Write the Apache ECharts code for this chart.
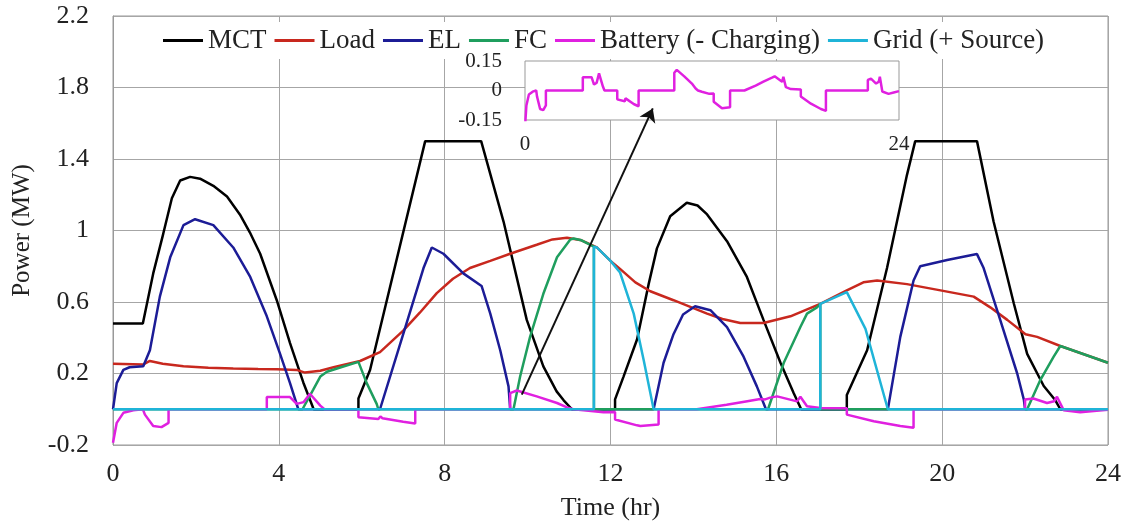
<!DOCTYPE html>
<html>
<head>
<meta charset="utf-8">
<script src="https://cdn.jsdelivr.net/npm/echarts@6/dist/echarts.min.js"></script>
<style>
html, body { margin: 0; padding: 0; background: #fff; }
#main { width: 1128px; height: 526px; }
</style>
</head>
<body>
<div id="main"></div>
<script>
// time (hr), power (MW) pairs
var mct = [[0,0.48],[0.72,0.48],[0.97,0.76],[1.21,0.98],[1.42,1.18],[1.62,1.28],[1.86,1.30],[2.1,1.29],[2.42,1.25],[2.75,1.19],[3.06,1.09],[3.3,0.99],[3.55,0.87],[3.95,0.61],[4.27,0.37],[4.59,0.15],[4.84,0],[5.92,0],[5.92,0.06],[6.2,0.22],[7.53,1.5],[8.88,1.5],[9.42,1.05],[9.98,0.5],[10.38,0.24],[10.7,0.1],[10.87,0.05],[11.07,0],[12.11,0],[12.11,0.055],[12.31,0.18],[12.64,0.39],[12.92,0.7],[13.12,0.9],[13.44,1.08],[13.84,1.155],[14.1,1.14],[14.33,1.09],[14.81,0.94],[15.29,0.74],[15.69,0.5],[16.1,0.26],[16.42,0.09],[16.6,0],[17.7,0],[17.7,0.08],[18.19,0.33],[18.67,0.79],[19.15,1.31],[19.35,1.5],[20.84,1.5],[21.24,1.05],[21.73,0.59],[22.05,0.31],[22.45,0.13],[22.73,0.05],[22.85,0],[24,0]];
var load = [[0,0.255],[0.72,0.25],[0.89,0.27],[1.2,0.255],[1.7,0.24],[2.3,0.232],[2.9,0.228],[3.5,0.225],[3.95,0.224],[4.43,0.22],[4.63,0.205],[5.0,0.215],[5.32,0.235],[5.96,0.27],[6.44,0.32],[7.0,0.44],[7.4,0.54],[7.81,0.65],[8.2,0.73],[8.61,0.79],[9.1,0.83],[9.58,0.87],[10.22,0.92],[10.6,0.95],[10.95,0.96],[11.3,0.945],[11.67,0.905],[12.0,0.83],[12.23,0.785],[12.6,0.71],[12.96,0.66],[13.52,0.61],[14.33,0.535],[14.7,0.505],[15.13,0.483],[15.69,0.483],[16.34,0.52],[17.06,0.59],[17.7,0.665],[18.1,0.71],[18.43,0.72],[19.15,0.7],[19.96,0.665],[20.76,0.63],[21.16,0.57],[21.57,0.5],[22.01,0.42],[22.29,0.405],[22.85,0.354],[24,0.26]];
var el = [[0,0],[0.09,0.146],[0.25,0.22],[0.4,0.235],[0.73,0.24],[0.89,0.33],[1.13,0.63],[1.38,0.85],[1.7,1.03],[1.98,1.063],[2.42,1.03],[2.9,0.905],[3.31,0.74],[3.71,0.52],[4.03,0.31],[4.27,0.146],[4.47,0],[6.44,0],[7.0,0.42],[7.49,0.79],[7.69,0.905],[7.97,0.87],[8.45,0.76],[8.89,0.69],[9.1,0.535],[9.34,0.33],[9.54,0.128],[9.58,0],[13.04,0],[13.28,0.26],[13.52,0.42],[13.75,0.53],[14.04,0.576],[14.41,0.554],[14.81,0.46],[15.21,0.294],[15.53,0.128],[15.75,0],[18.69,0],[18.99,0.405],[19.31,0.72],[19.47,0.8],[20.12,0.835],[20.84,0.868],[21.0,0.79],[21.4,0.5],[21.81,0.2],[21.97,0.054],[22.0,0],[24,0]];
var fc = [[0,0],[4.57,0],[4.83,0.11],[5.0,0.183],[5.16,0.21],[5.5,0.235],[5.92,0.265],[6.12,0.146],[6.36,0.03],[6.4,0],[9.66,0],[9.82,0.183],[10.06,0.405],[10.38,0.646],[10.71,0.85],[11.03,0.95],[11.11,0.955],[11.3,0.945],[11.6,0.91],[11.6,0],[15.8,0],[16.18,0.26],[16.58,0.46],[16.74,0.535],[16.98,0.57],[17.06,0.59],[17.06,0],[22.05,0],[22.37,0.165],[22.69,0.294],[22.85,0.354],[24,0.26]];
var battery = [[0,-0.187],[0.09,-0.076],[0.25,-0.02],[0.49,-0.006],[0.72,0],[0.77,-0.03],[0.97,-0.094],[1.17,-0.1],[1.34,-0.076],[1.34,0],[3.71,0],[3.71,0.068],[4.27,0.068],[4.43,0.03],[4.6,0.04],[4.75,0.087],[5.0,0.02],[5.1,0],[5.92,0],[5.92,-0.045],[6.4,-0.055],[6.45,-0.04],[6.5,-0.05],[7.0,-0.07],[7.29,-0.08],[7.29,0],[9.58,0],[9.58,0.09],[9.74,0.105],[10.22,0.072],[10.71,0.035],[10.95,0.01],[11.1,0],[11.35,-0.006],[11.83,-0.017],[12.11,-0.015],[12.11,-0.057],[12.64,-0.09],[12.72,-0.094],[13.16,-0.085],[13.16,0],[14.08,0],[14.8,0.025],[15.3,0.045],[15.61,0.057],[15.73,0.055],[15.85,0.065],[16.02,0.072],[16.5,0.044],[16.58,0.07],[16.74,0.017],[17.06,0.007],[17.7,0.005],[17.7,-0.03],[18.35,-0.067],[18.99,-0.094],[19.31,-0.104],[19.31,0],[22.0,0],[22.0,0.054],[22.2,0.06],[22.53,0.035],[22.7,0.045],[22.77,0.07],[22.93,-0.005],[23.33,-0.017],[23.66,-0.01],[24,-0.003]];
var gridPower = [[0,0],[11.6,0],[11.6,0.91],[11.67,0.905],[12.0,0.83],[12.23,0.765],[12.56,0.535],[12.8,0.276],[13.04,0],[17.06,0],[17.06,0.59],[17.7,0.655],[18.15,0.45],[18.69,0],[24,0]];

var names = ['MCT', 'Load', 'EL', 'FC', 'Battery (- Charging)', 'Grid (+ Source)'];
var colors = ['#000000', '#c8281e', '#1c1c96', '#1f9e5e', '#e020e0', '#1fb4d8'];
var arrowFrom = [9.86, 0.082];
var arrowTo = [13.02, 1.683];

var font = "'Liberation Serif', 'Times New Roman', serif";
var myChart = echarts.init(document.getElementById('main'));

function lineSeries(name, data, color) {
    return {
        name: name, type: 'line', data: data, symbol: 'none',
        xAxisIndex: 0, yAxisIndex: 0,
        lineStyle: { color: color, width: 2.5 }, itemStyle: { color: color }
    };
}

var option = {
    animation: false,
    backgroundColor: '#fff',
    color: colors,
    legend: {
        data: names,
        left: 158, top: 22,
        icon: 'rect',
        itemWidth: 40, itemHeight: 3, itemGap: 8,
        backgroundColor: '#fff',
        textStyle: { fontFamily: font, fontSize: 27, color: '#222' }
    },
    grid: [
        { left: 113, right: 20, top: 16, bottom: 77, show: true, borderColor: '#999', borderWidth: 1 },
        { left: 525, top: 61, width: 374, height: 59, show: true, backgroundColor: '#fff', borderColor: '#999', borderWidth: 1, z: 5 }
    ],
    xAxis: [
        {
            type: 'value', gridIndex: 0, min: 0, max: 24, interval: 4,
            name: 'Time (hr)', nameLocation: 'middle', nameGap: 50,
            nameTextStyle: { fontFamily: font, fontSize: 26, color: '#222' },
            axisLine: { show: true, lineStyle: { color: '#999' } },
            axisTick: { show: false },
            axisLabel: { margin: 16, fontFamily: font, fontSize: 26, color: '#222' },
            splitLine: { show: true, lineStyle: { color: '#a6a6a6' } }
        },
        {
            type: 'value', gridIndex: 1, min: 0, max: 24, interval: 24, z: 6,
            axisLine: { show: false }, axisTick: { show: false },
            axisLabel: { margin: 14, fontFamily: font, fontSize: 21, color: '#222' },
            splitLine: { show: false }
        }
    ],
    yAxis: [
        {
            type: 'value', gridIndex: 0, min: -0.2, max: 2.2, interval: 0.4,
            name: 'Power (MW)', nameLocation: 'middle', nameGap: 78,
            nameTextStyle: { fontFamily: font, fontSize: 25, color: '#222' },
            axisLine: { show: true, lineStyle: { color: '#999' } },
            axisTick: { show: false },
            axisLabel: { margin: 24, fontFamily: font, fontSize: 26, color: '#222' },
            splitLine: { show: true, lineStyle: { color: '#a6a6a6' } }
        },
        {
            type: 'value', gridIndex: 1, min: -0.15, max: 0.15, interval: 0.15, z: 6,
            axisLine: { show: false }, axisTick: { show: false },
            axisLabel: { margin: 23, fontFamily: font, fontSize: 21, color: '#222' },
            splitLine: { show: false }
        }
    ],
    series: [
        lineSeries(names[0], mct, colors[0]),
        lineSeries(names[1], load, colors[1]),
        lineSeries(names[2], el, colors[2]),
        lineSeries(names[3], fc, colors[3]),
        lineSeries(names[4], battery, colors[4]),
        lineSeries(names[5], gridPower, colors[5]),
        {
            name: 'inset', type: 'line', data: battery, symbol: 'none',
            xAxisIndex: 1, yAxisIndex: 1, z: 7, clip: true,
            lineStyle: { color: colors[4], width: 2.5 }
        },
        {
            name: 'arrow', type: 'line', data: [], xAxisIndex: 0, yAxisIndex: 0, z: 10,
            markLine: {
                silent: true, symbol: ['none', 'arrow'], symbolSize: 13, z: 10,
                label: { show: false },
                lineStyle: { color: '#111', width: 2, type: 'solid' },
                data: [[{ coord: arrowFrom }, { coord: arrowTo }]]
            }
        }
    ]
};

myChart.setOption(option);
</script>
</body>
</html>
